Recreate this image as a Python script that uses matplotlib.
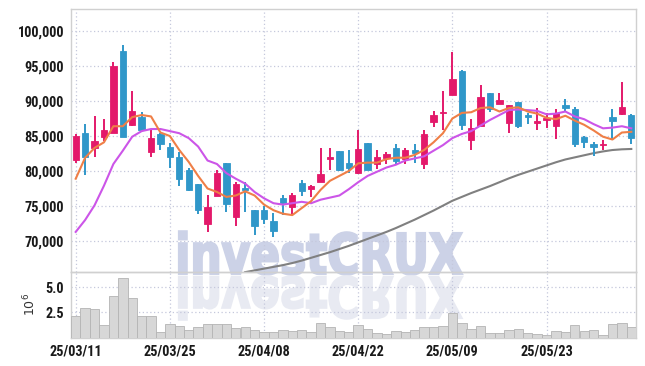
import numpy as np
import matplotlib
matplotlib.use('Agg')
import matplotlib.pyplot as plt
from matplotlib.textpath import TextPath
from matplotlib.patches import PathPatch
from matplotlib.font_manager import FontProperties
from matplotlib.transforms import Affine2D
from matplotlib.ticker import FuncFormatter

# ---------------- data ----------------
opens = [81600, 85500, 83300, 84900, 85500, 97200, 86600, 87700, 82700, 85300,
         83500, 82000, 80100, 78200, 72500, 76500, 81100, 73500, 77600, 74500,
         74500, 72800, 76200, 74800, 78300, 77500, 78500, 81700, 82800, 81100,
         79700, 84000, 81000, 81900, 83300, 81700, 83000, 81000, 87000, 88300,
         90800, 94300, 84400, 86400, 91200, 89600, 86900, 89900, 88000, 86800,
         87300, 86500, 89500, 88900, 84800, 83800, 83700, 87700, 88100, 88000]
highs = [85300, 86700, 87800, 87400, 95600, 98000, 91500, 88500, 86000, 85400,
         84000, 82700, 80400, 78200, 76600, 80100, 81200, 78500, 78500, 74500,
         75000, 74000, 76600, 76900, 78700, 78000, 83300, 83300, 82800, 83000,
         85900, 84000, 83000, 82700, 83900, 83300, 83900, 85900, 88600, 91500,
         97000, 94400, 87500, 92300, 91200, 91200, 89500, 89900, 88300, 89000,
         88300, 88800, 90300, 89100, 85000, 84100, 84500, 88800, 92700, 88100]
lows = [81100, 79500, 82000, 84300, 85400, 84900, 86500, 85700, 82000, 83000,
        80500, 77900, 77100, 73900, 71300, 76500, 74100, 72200, 74100, 70900,
        72500, 70500, 73700, 73700, 76400, 76300, 78500, 80100, 80000, 79700,
        79600, 80200, 80300, 81000, 80900, 81000, 81200, 80300, 86300, 85800,
        90800, 85800, 83000, 86400, 88400, 89600, 85500, 86100, 86700, 85800,
        86100, 84600, 88600, 83500, 83300, 82200, 83000, 84600, 88000, 83900]
closes = [85000, 82000, 84300, 85800, 95000, 84900, 88600, 85800, 84700, 83800,
          82000, 78800, 77300, 74500, 74900, 79700, 75300, 78200, 77300, 72100,
          73100, 71400, 75500, 76600, 77100, 77800, 79600, 82000, 80200, 80400,
          83200, 80200, 82000, 82400, 81500, 83000, 82600, 85300, 88000, 88300,
          93200, 86600, 86200, 90600, 88800, 90200, 89500, 86400, 87700, 87200,
          87600, 88300, 89000, 83900, 84100, 83500, 83800, 87100, 89200, 84700]
ma5 = [78900, 81900, 83300, 84100, 86400, 86400, 87700, 88000, 87800, 85500,
       85000, 83000, 81300, 79300, 77500, 77000, 76300, 76500, 77100, 76500,
       75200, 74400, 73900, 73700, 74700, 75700, 77300, 78600, 79300, 80000,
       81100, 81200, 81200, 81700, 81900, 81900, 82300, 83000, 84100, 85400,
       87500, 88300, 88400, 89000, 89100, 88500, 89000, 89100, 88500, 88200,
       87600, 87400, 87900, 87200, 86600, 85800, 84900, 84500, 85500, 85600]
ma10 = [71300, 73000, 75100, 77900, 81000, 82900, 84900, 85700, 86000, 86000,
        85700, 85400, 84700, 83500, 81500, 81000, 79700, 78900, 78200, 77000,
        76100, 75400, 75200, 75400, 75600, 75400, 75900, 76200, 76500, 77400,
        78400, 79300, 79900, 80500, 80900, 81500, 81800, 82100, 82900, 83700,
        84700, 85300, 85700, 86500, 87300, 88000, 88700, 88800, 88700, 88600,
        88100, 88200, 88500, 87800, 87400, 86700, 86100, 86200, 86400, 86100]
ma60 = [np.nan] * 18 + [
        65550, 65800, 66050, 66300, 66550, 66850, 67200, 67600, 68000, 68400,
        68850, 69300, 69800, 70300, 70800, 71300, 71850, 72450, 73050, 73700,
        74350, 75050, 75750, 76300, 76850, 77350, 77850, 78400, 78950, 79450,
        79900, 80350, 80800, 81250, 81650, 81950, 82250, 82550, 82800, 83000,
        83100, 83150]
volume_m = [2.13, 2.90, 2.80, 1.23, 4.13, 5.93, 3.90, 2.13, 2.13, 0.53,
            1.33, 1.13, 0.70, 1.00, 1.33, 1.33, 1.33, 0.90, 1.00, 0.70,
            0.53, 0.53, 0.70, 0.60, 0.70, 0.53, 1.40, 1.00, 0.63, 0.53,
            1.23, 0.80, 0.40, 0.30, 0.60, 0.50, 0.70, 1.00, 1.00, 1.13,
            2.46, 1.40, 0.80, 1.10, 0.40, 0.40, 0.70, 0.80, 0.40, 0.30,
            0.23, 0.60, 0.50, 1.20, 0.60, 0.70, 0.20, 1.30, 1.40, 1.00]
tick_pos = [0, 10, 20, 30, 40, 50]
tick_labels = ['25/03/11', '25/03/25', '25/04/08', '25/04/22', '25/05/09', '25/05/23']
price_ticks = [70000, 75000, 80000, 85000, 90000, 95000, 100000]
vol_ticks = [2.5, 5.0]

# ---------------- styling ----------------
UP = '#e3196a'
DOWN = '#3097c9'
GRID = '#c5c8dc'
FRAME = '#d0d0d0'
tick_font = FontProperties(family=['Roboto Condensed', 'Liberation Sans Narrow', 'Liberation Sans'],
                           weight='bold', size=10.3)

W, H = 645, 366
fig = plt.figure(figsize=(W / 100, H / 100), dpi=100)
fig.patch.set_facecolor('white')

def fr(x0, y0, x1, y1):
    return [x0 / W, 1 - y1 / H, (x1 - x0) / W, (y1 - y0) / H]

ax = fig.add_axes(fr(71, 9, 636, 272))
axv = fig.add_axes(fr(71, 272, 636, 337.5), sharex=ax)
for a in (ax, axv):
    a.set_facecolor('none')
    for s in a.spines.values():
        s.set_color(FRAME)
        s.set_linewidth(1.0)
    a.tick_params(length=0, pad=5, colors='#1a1a1a')
    a.grid(True, color=GRID, linestyle=(0, (1, 2)), linewidth=0.9)
    a.set_axisbelow(True)

x = np.arange(len(closes))
o = np.array(opens); c = np.array(closes); h = np.array(highs); l = np.array(lows)
cols = [UP if cc >= oo else DOWN for oo, cc in zip(o, c)]

# wicks and bodies
ax.vlines(x, l, h, colors=cols, linewidth=1.4, zorder=3)
body_bottom = np.minimum(o, c)
body_h = np.maximum(np.abs(c - o), 120)
ax.bar(x, body_h, bottom=body_bottom, width=0.68, color=cols, edgecolor=cols, linewidth=0.6, zorder=4)

ax.plot(x, ma60, color='#808080', linewidth=1.5, zorder=2)
ax.plot(x, ma10, color='#cc55e8', linewidth=1.5, zorder=5)
ax.plot(x, ma5, color='#ef7f47', linewidth=1.5, zorder=6)

ax.set_xlim(-0.5, len(closes) - 0.5)
ax.set_ylim(65570, 103150)
ax.set_yticks(price_ticks)
ax.yaxis.set_major_formatter(FuncFormatter(lambda v, p: f'{int(v):,}'))
ax.set_xticks(tick_pos)
plt.setp(ax.get_xticklabels(), visible=False)
for t in ax.get_yticklabels():
    t.set_fontproperties(tick_font)

# volume
axv.bar(x, volume_m, width=1.0, color='#d7d7d7', edgecolor='#b4b4b4', linewidth=0.6, zorder=3)
axv.set_ylim(0, 6.53)
axv.set_yticks(vol_ticks)
axv.set_yticklabels(['2.5', '5.0'])
axv.set_xticks(tick_pos)
axv.set_xticklabels(tick_labels)
for t in axv.get_yticklabels() + axv.get_xticklabels():
    t.set_fontproperties(tick_font)
axv.set_ylabel(r'$10^6$', fontsize=9, labelpad=5, color='#333333')

# watermark with reflection
fp = FontProperties(family='DejaVu Sans', weight='bold')
tp = TextPath((0, 0), 'investCRUX', size=1, prop=fp)
ext = tp.get_extents()
sx = 283 / ext.width
sy = 41 / 0.73
base_y = H - 274
tr_main = Affine2D().translate(-ext.x0, 0).scale(sx / W, sy / H).translate(179 / W, base_y / H) + fig.transFigure
fig.patches.append(PathPatch(tp, facecolor='#ccd2e7', edgecolor='#ccd2e7', linewidth=1.6,
                             transform=tr_main, zorder=-1))
refl_y = H - 277
tr_ref = Affine2D().translate(-ext.x0, 0).scale(sx / W, -sy / H).translate(179 / W, refl_y / H) + fig.transFigure
fig.patches.append(PathPatch(tp, facecolor='#e8eaf2', edgecolor='#e8eaf2', linewidth=1.6,
                             transform=tr_ref, zorder=-1))

fig.savefig('out.png', dpi=100, facecolor='white')
